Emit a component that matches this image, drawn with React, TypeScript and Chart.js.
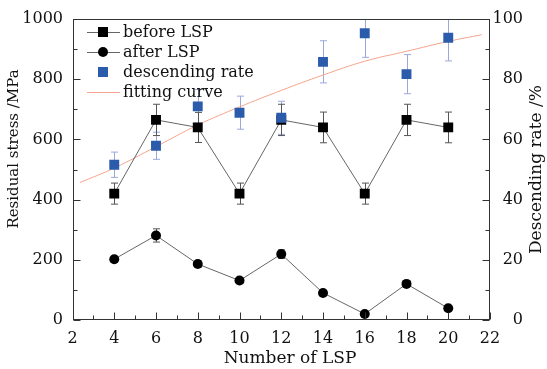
import React, { useEffect, useRef } from 'react';
import { Chart, registerables } from 'chart.js';
Chart.register(...registerables);

const lspCounts = [4, 6, 8, 10, 12, 14, 16, 18, 20];
const beforeLSP = [420, 665, 640, 420, 665, 640, 420, 665, 640];
const beforeErr = [35, 52, 50, 35, 52, 51, 35, 52, 51];
const afterLSP = [202, 281, 186, 131, 219, 90, 20, 120, 39];
const afterErr = [10, 22, 10, 8, 14, 8, 6, 8, 6];
const descRate = [51.6, 57.9, 71, 68.9, 67.2, 85.8, 95.3, 81.7, 93.8];
const descErr = [4.2, 4.5, 5.6, 5.5, 5.5, 7, 8, 6.5, 7.7];
const fitX = [2.36, 4, 6, 8, 10, 12, 14, 16, 18, 20, 21.6];
const fitY = [45.7, 50.5, 57.6, 64.8, 70.8, 76.3, 81.4, 86.0, 89.3, 92.6, 94.8];
const rightTicks = [0, 20, 40, 60, 80, 100];

const xTitle = 'Number of LSP';
const yTitle = 'Residual stress /MPa';
const y1Title = 'Descending rate /%';
const legendLabels = ['before LSP', 'after LSP', 'descending rate', 'fitting curve'];

const FONT = '"DejaVu Serif", serif';
const BLUE = '#2b5cab';
const BLUE_ERR = '#9ba8dc';
const FIT = '#f4a48e';
const LINE = '#666666';

const pts = (ys: number[]) => lspCounts.map((x, i) => ({ x, y: ys[i] }));

export default function App() {
  const ref = useRef<HTMLCanvasElement | null>(null);
  useEffect(() => {
    document.body.style.margin = '0';
    const canvas = ref.current;
    if (!canvas) return;

    const extras = {
      id: 'extras',
      beforeDatasetsDraw(chart: any) {
        const ctx = chart.ctx;
        const ca = chart.chartArea;
        const x = chart.scales.x;
        const y = chart.scales.y;
        const y1 = chart.scales.y1;
        ctx.save();
        ctx.beginPath();
        ctx.rect(ca.left, ca.top, ca.right - ca.left, ca.bottom - ca.top);
        ctx.clip();
        const drawErr = (vals: number[], errs: number[], sc: any, color: string) => {
          ctx.strokeStyle = color;
          ctx.lineWidth = 1;
          vals.forEach((v, i) => {
            const px = Math.round(x.getPixelForValue(lspCounts[i])) + 0.5;
            const t = sc.getPixelForValue(v + errs[i]);
            const b = sc.getPixelForValue(v - errs[i]);
            ctx.beginPath();
            ctx.moveTo(px, t);
            ctx.lineTo(px, b);
            ctx.moveTo(px - 3.5, t);
            ctx.lineTo(px + 3.5, t);
            ctx.moveTo(px - 3.5, b);
            ctx.lineTo(px + 3.5, b);
            ctx.stroke();
          });
        };
        drawErr(descRate, descErr, y1, BLUE_ERR);
        drawErr(beforeLSP, beforeErr, y, '#555');
        drawErr(afterLSP, afterErr, y, '#555');
        ctx.restore();
      },
      afterDraw(chart: any) {
        const ctx = chart.ctx;
        const ca = chart.chartArea;
        const x = chart.scales.x;
        const y = chart.scales.y;
        const y1 = chart.scales.y1;
        ctx.save();
        ctx.strokeStyle = '#333';
        ctx.lineWidth = 1;
        const L = Math.round(ca.left) + 0.5;
        const R = Math.round(ca.right) - 0.5;
        const T = Math.round(ca.top) + 0.5;
        const B = Math.round(ca.bottom) - 0.5;
        ctx.strokeRect(L, T, R - L, B - T);
        ctx.beginPath();
        for (let v = 2; v <= 22; v += 1) {
          const px = Math.round(x.getPixelForValue(v)) + 0.5;
          const len = v % 2 === 0 ? 7 : 4;
          ctx.moveTo(px, B);
          ctx.lineTo(px, B - len);
        }
        for (let v = 0; v <= 1000; v += 100) {
          const py = Math.round(y.getPixelForValue(v)) + 0.5;
          const len = v % 200 === 0 ? 7 : 4;
          ctx.moveTo(L, py);
          ctx.lineTo(L + len, py);
        }
        for (let v = 0; v <= 100; v += 10) {
          const py = Math.round(y1.getPixelForValue(v)) + 0.5;
          const len = v % 20 === 0 ? 7 : 4;
          ctx.moveTo(R, py);
          ctx.lineTo(R - len, py);
        }
        ctx.stroke();

        // right tick labels
        ctx.fillStyle = '#111';
        ctx.font = `16px ${FONT}`;
        ctx.textAlign = 'right';
        ctx.textBaseline = 'middle';
        rightTicks.forEach((v) => {
          ctx.fillText(String(v), 523, y1.getPixelForValue(v));
        });

        // titles
        ctx.textAlign = 'center';
        ctx.font = `17px ${FONT}`;
        ctx.fillText(xTitle, 290, 359);
        ctx.save();
        ctx.font = `15px ${FONT}`;
        ctx.translate(14, 149);
        ctx.rotate(-Math.PI / 2);
        ctx.fillText(yTitle, 0, 0);
        ctx.restore();
        ctx.save();
        ctx.font = `17px ${FONT}`;
        ctx.translate(537, (ca.top + ca.bottom) / 2);
        ctx.rotate(-Math.PI / 2);
        ctx.fillText(y1Title, 0, 0);
        ctx.restore();

        // legend
        ctx.font = `16px ${FONT}`;
        const rows = [32, 52, 72, 92];
        const lx0 = 87, lx1 = 120, mx = 103, tx = 123;
        ctx.textAlign = 'left';
        rows.forEach((ry, i) => {
          if (i < 2 || i === 3) {
            ctx.strokeStyle = i === 3 ? FIT : LINE;
            ctx.lineWidth = 1;
            ctx.beginPath();
            ctx.moveTo(lx0, ry + 0.5);
            ctx.lineTo(lx1, ry + 0.5);
            ctx.stroke();
          }
          if (i === 0) {
            ctx.fillStyle = '#000';
            ctx.fillRect(mx - 5, ry - 5, 10, 10);
          } else if (i === 1) {
            ctx.fillStyle = '#000';
            ctx.beginPath();
            ctx.arc(mx, ry, 5, 0, Math.PI * 2);
            ctx.fill();
          } else if (i === 2) {
            ctx.fillStyle = BLUE;
            ctx.fillRect(mx - 5, ry - 5, 10, 10);
          }
          ctx.fillStyle = '#111';
          ctx.fillText(legendLabels[i], tx, ry + 1);
        });
        ctx.restore();
      },
    };

    const chart = new Chart(canvas, {
      type: 'line',
      data: {
        datasets: [
          {
            label: legendLabels[0],
            data: pts(beforeLSP),
            yAxisID: 'y',
            borderColor: LINE,
            borderWidth: 1,
            backgroundColor: '#000',
            pointStyle: 'rect',
            pointRadius: 7,
            pointBorderWidth: 0,
            pointBackgroundColor: '#000',
            order: 1,
          },
          {
            label: legendLabels[1],
            data: pts(afterLSP),
            yAxisID: 'y',
            borderColor: LINE,
            borderWidth: 1,
            pointStyle: 'circle',
            pointRadius: 5,
            pointBorderWidth: 0,
            pointBackgroundColor: '#000',
            order: 1,
          },
          {
            label: legendLabels[2],
            data: pts(descRate),
            yAxisID: 'y1',
            showLine: false,
            pointStyle: 'rect',
            pointRadius: 7,
            pointBorderWidth: 0,
            pointBackgroundColor: BLUE,
            order: 0,
          },
          {
            label: legendLabels[3],
            data: fitX.map((xv, i) => ({ x: xv, y: fitY[i] })),
            yAxisID: 'y1',
            borderColor: FIT,
            borderWidth: 1,
            pointRadius: 0,
            tension: 0.4,
            order: 2,
          },
        ],
      },
      options: {
        animation: false,
        responsive: true,
        maintainAspectRatio: false,
        layout: { padding: { top: 15, left: 0, right: 0, bottom: 0 } },
        plugins: { legend: { display: false }, tooltip: { enabled: false } },
        scales: {
          x: {
            type: 'linear',
            min: 2,
            max: 22,
            afterFit: (s: any) => { s.height = 49; },
            ticks: { stepSize: 2, padding: 9, color: '#111', font: { family: FONT, size: 16 }, callback: (v: any) => String(v) },
            grid: { display: false, drawTicks: false },
            border: { display: false },
          },
          y: {
            position: 'left',
            min: 0,
            max: 1000,
            afterFit: (s: any) => { s.width = 72.5; },
            ticks: { stepSize: 200, padding: 9.5, color: '#111', font: { family: FONT, size: 16 }, callback: (v: any) => String(v) },
            grid: { display: false, drawTicks: false },
            border: { display: false },
          },
          y1: {
            position: 'right',
            min: 0,
            max: 100,
            afterFit: (s: any) => { s.width = 57; },
            ticks: { display: false, stepSize: 20 },
            grid: { display: false, drawTicks: false },
            border: { display: false },
          },
        },
      },
      plugins: [extras],
    });
    return () => chart.destroy();
  }, []);
  return (
    <div style={{ width: 547, height: 369, position: 'relative', background: '#fff' }}>
      <canvas ref={ref} />
    </div>
  );
}
